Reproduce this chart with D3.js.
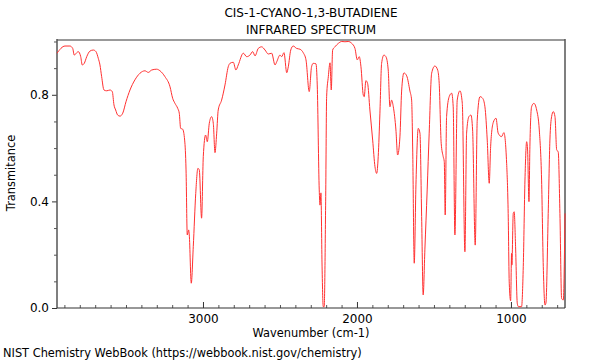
<!DOCTYPE html>
<html><head><meta charset="utf-8">
<script src="https://cdn.jsdelivr.net/npm/d3@7"></script>
<style>body{margin:0;background:#fff}svg{display:block}text{font-family:"DejaVu Sans",sans-serif}</style>
</head><body><svg id="c" width="600" height="360"></svg>
<script>
const titleLines = ["CIS-1-CYANO-1,3-BUTADIENE", "INFRARED SPECTRUM"];
const xLabel = "Wavenumber (cm-1)";
const yLabel = "Transmitance";
const credit = "NIST Chemistry WebBook (https://webbook.nist.gov/chemistry)";
const xMajorTicks = [3000, 2000, 1000];
const yMajorTicks = [0.0, 0.4, 0.8];
const xDomain = [3948, 649];
const yDomain = [0, 1.0056];
const wavenumber = [3948,3896,3864,3846,3836,3820,3810,3794,3784,3771,3755,3734,3712,3695,3680,3669,3658,3643,3625,3604,3589,3578,3567,3554,3539,3521,3500,3474,3442,3409,3377,3355,3333,3301,3279,3247,3214,3197,3182,3164,3154,3145,3132,3119,3110,3102,3093,3089,3076,3063,3047,3033,3024,3009,2998,2983,2972,2959,2944,2933,2922,2911,2901,2879,2857,2836,2825,2803,2786,2771,2738,2716,2695,2677,2662,2641,2619,2597,2576,2554,2532,2521,2500,2489,2474,2456,2446,2430,2414,2392,2370,2349,2331,2310,2295,2284,2266,2258,2245,2240,2234,2227,2219,2213,2203,2197,2186,2175,2167,2158,2143,2121,2099,2078,2057,2034,2013,1998,1985,1974,1959,1953,1942,1931,1916,1898,1883,1872,1862,1851,1840,1825,1812,1797,1786,1775,1764,1747,1736,1721,1710,1695,1677,1656,1645,1638,1628,1617,1602,1591,1580,1570,1559,1544,1531,1515,1494,1476,1466,1453,1440,1433,1427,1418,1401,1385,1375,1364,1349,1331,1316,1299,1288,1273,1260,1249,1232,1219,1201,1184,1169,1154,1141,1132,1115,1097,1083,1061,1046,1028,1018,1011,1002,996,994,985,979,970,959,952,931,920,909,898,892,883,877,866,851,833,816,801,790,779,773,758,747,736,725,714,703,693,682,671,660,649];
const transmittance = [0.956,0.983,0.983,0.974,0.949,0.958,0.962,0.943,0.912,0.918,0.943,0.964,0.968,0.962,0.937,0.912,0.868,0.818,0.815,0.818,0.812,0.762,0.743,0.724,0.720,0.731,0.774,0.818,0.856,0.881,0.890,0.884,0.893,0.896,0.890,0.868,0.830,0.787,0.768,0.749,0.731,0.674,0.671,0.630,0.518,0.274,0.293,0.274,0.093,0.230,0.430,0.524,0.518,0.337,0.568,0.649,0.624,0.693,0.718,0.693,0.583,0.656,0.743,0.780,0.837,0.905,0.918,0.922,0.893,0.912,0.956,0.943,0.949,0.962,0.946,0.974,0.980,0.968,0.953,0.956,0.912,0.924,0.949,0.943,0.958,0.883,0.905,0.968,0.983,0.974,0.971,0.958,0.931,0.812,0.905,0.918,0.916,0.837,0.443,0.386,0.432,0.169,0.005,0.005,0.418,0.793,0.868,0.920,0.818,0.968,0.980,0.993,1.000,0.999,1.000,0.993,0.974,0.931,0.943,0.905,0.799,0.793,0.853,0.843,0.743,0.630,0.530,0.505,0.568,0.731,0.918,0.949,0.943,0.893,0.755,0.780,0.755,0.668,0.574,0.642,0.814,0.882,0.871,0.814,0.780,0.593,0.168,0.462,0.674,0.656,0.343,0.049,0.218,0.443,0.656,0.881,0.908,0.893,0.843,0.618,0.568,0.549,0.349,0.718,0.793,0.806,0.755,0.274,0.780,0.815,0.768,0.211,0.656,0.718,0.724,0.668,0.236,0.705,0.793,0.787,0.755,0.630,0.468,0.605,0.696,0.712,0.656,0.643,0.658,0.543,0.355,0.093,0.027,0.205,0.161,0.355,0.361,0.230,0.018,0.005,0.005,0.155,0.480,0.624,0.593,0.399,0.605,0.755,0.768,0.743,0.668,0.480,0.155,0.011,0.018,0.355,0.630,0.718,0.737,0.718,0.593,0.586,0.355,0.036,0.030,0.355];

const svg = d3.select("#c");
const L = 57, R = 565, T = 40, B = 308;
const x = d3.scaleLinear().domain(xDomain).range([L, R]);
const y = d3.scaleLinear().domain(yDomain).range([B, T]);

// minor ticks
const xMinor = d3.range(700, 3901, 100).filter(v => !xMajorTicks.includes(v));
const yMinor = d3.range(0, 11).map(i => i / 10).filter(v => !yMajorTicks.some(m => Math.abs(m - v) < 1e-9));

const gx = svg.append("g").attr("transform", `translate(0,${B})`);
gx.call(d3.axisBottom(x).tickValues(xMinor).tickSize(-3).tickFormat(""))
  .call(g => g.select(".domain").remove())
  .call(g => g.selectAll("line").attr("stroke", "#555"));
gx.append("g").call(d3.axisBottom(x).tickValues(xMajorTicks).tickSizeInner(-6).tickSizeOuter(0).tickPadding(6).tickFormat(d3.format("d")))
  .call(g => g.select(".domain").remove())
  .call(g => g.selectAll("line").attr("stroke", "#333"))
  .call(g => g.selectAll("text").attr("font-size", 12).attr("fill", "#000").attr("font-family", "DejaVu Sans"));

const gy = svg.append("g").attr("transform", `translate(${L},0)`);
gy.call(d3.axisLeft(y).tickValues(yMinor).tickSize(3).tickFormat(""))
  .call(g => g.select(".domain").remove())
  .call(g => g.selectAll("line").attr("stroke", "#555"));
gy.append("g").call(d3.axisLeft(y).tickValues(yMajorTicks).tickSizeInner(5).tickSizeOuter(0).tickPadding(3).tickFormat(d3.format(".1f")))
  .call(g => g.select(".domain").remove())
  .call(g => g.selectAll("line").attr("stroke", "#333"))
  .call(g => g.selectAll("text").attr("font-size", 12).attr("fill", "#000").attr("font-family", "DejaVu Sans"));

// frame
svg.append("line").attr("x1", L).attr("x2", R).attr("y1", T).attr("y2", T).attr("stroke", "#999").attr("stroke-width", 2);
svg.append("line").attr("x1", R).attr("x2", R).attr("y1", T - 1).attr("y2", B).attr("stroke", "#555").attr("stroke-width", 1.5);
svg.append("line").attr("x1", L).attr("x2", L).attr("y1", T - 1).attr("y2", B).attr("stroke", "#555").attr("stroke-width", 1.5);
svg.append("line").attr("x1", L).attr("x2", R).attr("y1", B).attr("y2", B).attr("stroke", "#333").attr("stroke-width", 1.2);

// spectrum
const pts = wavenumber.map((w, i) => [w, transmittance[i]]);
svg.append("path").datum(pts)
  .attr("fill", "none").attr("stroke", "#ff3030").attr("stroke-width", 1)
  .attr("d", d3.line().x(d => x(d[0])).y(d => y(d[1])).curve(d3.curveMonotoneX));

// texts
const cx = (L + R) / 2;
svg.selectAll("text.title").data(titleLines).enter().append("text")
  .attr("class", "title").attr("x", cx).attr("y", (d, i) => 17 + i * 17)
  .attr("text-anchor", "middle").attr("font-size", 12).text(d => d);
svg.append("text").attr("x", 311).attr("y", 337).attr("text-anchor", "middle").attr("font-size", 11.4).text(xLabel);
svg.append("text").attr("transform", `translate(15,${(T + B) / 2 - 1}) rotate(-90)`).attr("text-anchor", "middle").attr("font-size", 11.4).text(yLabel);
svg.append("text").attr("x", 3).attr("y", 357).attr("font-size", 11.4).text(credit);
</script></body></html>
